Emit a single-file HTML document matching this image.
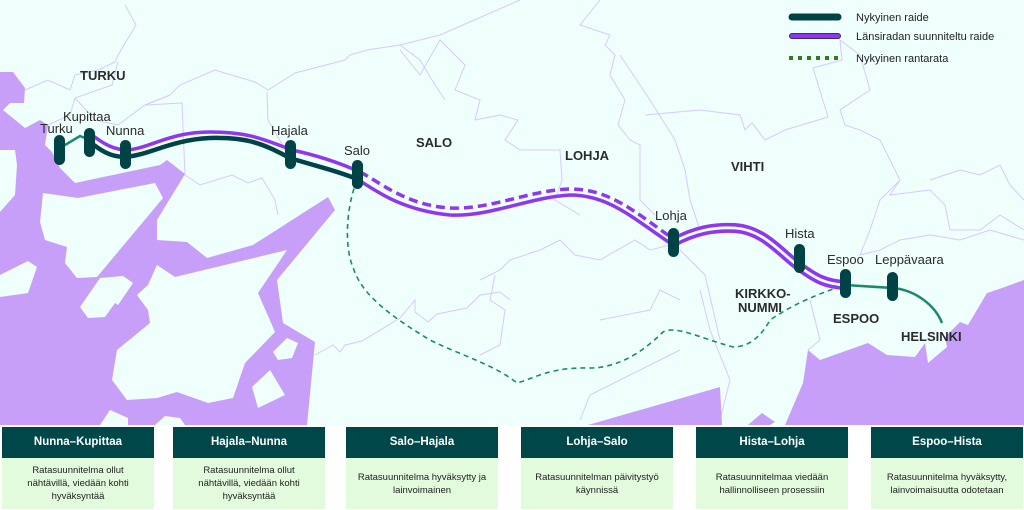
<!DOCTYPE html>
<html><head><meta charset="utf-8"><style>
body{margin:0;width:1024px;height:510px;overflow:hidden;background:#fff;font-family:"Liberation Sans",sans-serif}
.box{position:absolute;top:427px;width:152px;height:82px}
.h{height:31px;background:#00474a;color:#fff;font-weight:bold;font-size:11.5px;text-align:center;line-height:31px}
.b{height:51px;background:#e2fbdd;color:#222;font-size:9.5px;text-align:center;display:flex;align-items:center;justify-content:center;line-height:13px;padding:0 8px}
</style></head><body>
<svg width="1024" height="510" style="position:absolute;left:0;top:0" font-family="Liberation Sans, sans-serif">
<rect x="0" y="0" width="1024" height="425" fill="#effffb"/>
<g fill="none" stroke="#d7c9ff" stroke-width="1">
<polyline points="125,5 136,25 118,55 115,62 98,70 75,75 70,90 48,80 25,90"/>
<polyline points="118,62 112,85 75,98 70,115 48,125"/>
<polyline points="75,98 95,120 118,125 145,105 170,95"/>
<polyline points="170,95 180,85 215,70 255,82 268,90 295,73 345,60 350,55 367,50 380,48 400,45 440,35 520,0"/>
<polyline points="170,95 145,105 182,103 185,175"/>
<polyline points="267,92 268,120 290,158"/>
<polyline points="185,175 200,185 232,175 248,183 262,178 275,200 278,215"/>
<polyline points="600,0 580,25 610,35 605,45 615,55 610,75 625,100 618,125 630,140 640,145 640,200 655,215"/>
<polyline points="400,50 420,75 440,40 465,65 455,90 480,100 475,120 500,115 518,120 505,140 520,150 560,150 562,180 555,200 580,215"/>
<polyline points="645,115 700,110 740,115 745,130 752,123 765,140 785,130 828,117 813,68 842,60 840,40 860,55 870,90 840,110 845,125 860,130 880,140 900,180 880,200"/>
<polyline points="620,55 650,100 675,140 685,170 690,200 700,230"/>
<polyline points="900,180 890,195 930,190 945,205 950,230 980,230 1000,215 1024,230"/>
<polyline points="880,200 870,230 860,255"/>
<polyline points="700,290 710,330 730,380 720,420"/>
<polyline points="680,250 705,275 720,340"/>
<polyline points="810,300 820,340 808,350"/>
<polyline points="400,45 420,60 435,85 445,100"/>
<polyline points="480,280 500,270 510,260 540,250 560,240 575,255 600,260 635,240 650,250 690,240"/>
<polyline points="480,355 500,345 505,310 490,300 495,275"/>
<polyline points="600,320 650,310 660,290 680,300"/>
<polyline points="580,420 590,395 620,380 660,360 680,350"/>
<polyline points="315,355 333,345 340,352 345,345 362,341 400,318 415,300 415,312 428,322 437,314 467,308 480,295 500,292 510,300"/>
<polyline points="930,180 960,170 980,175 1000,165 1010,185 1024,200"/>
<polyline points="860,255 880,250 900,240 930,235 960,240 990,230 1024,240"/>
</g>
<g fill="#c79ff9">
<polygon points="0,72 13,72 25,88 24,103 10,103 3,110 25,128 40,120 48,125 45,145 52,152 60,168 75,183 160,165 167,160 185,174 157,220 157,240 187,242 207,258 253,245 328,197 335,210 277,280 283,323 315,342 307,425 0,425"/>
<polygon points="588,425 720,387 722,425"/>
<polygon points="748,425 762,413 775,422 770,425"/>
<polygon points="785,425 803,383 808,350 820,360 868,343 887,355 915,357 925,343 928,363 947,347 945,337 960,322 968,325 987,293 1002,288 1024,280 1024,425"/>
</g>
<g fill="#effffb">
<polygon points="0,150 15,150 17,165 15,195 0,212"/>
<polygon points="43,193 78,198 155,183 163,198 97,277 77,278 65,263 67,247 45,240 40,222"/>
<polygon points="157,265 175,277 287,250 258,293 275,332 245,363 233,398 208,403 177,392 157,398 127,400 112,380 117,350 150,323 148,310 137,295 148,285"/>
<polygon points="80,307 100,278 123,276 133,283 118,305 115,303 105,317 88,318"/>
<polygon points="273,352 287,338 298,343 292,358 278,360"/>
<polygon points="252,387 270,370 285,395 258,408"/>
<polygon points="0,275 28,261 37,267 28,293 0,297"/>
<polygon points="100,425 110,410 128,418 128,425"/>
<polygon points="155,425 165,416 180,418 185,425"/>
</g>
<!-- rantarata dashed -->
<path d="M357,180 C345,210 345,250 353,267 C360,290 380,310 430,340 C460,355 495,365 517,383 C535,378 550,367 590,368 C615,368 640,355 663,332 C675,325 700,338 733,347 C750,347 762,335 770,320 C785,310 805,298 845,285" fill="none" stroke="#1b8a6b" stroke-width="1.6" stroke-dasharray="5,4"/>
<!-- existing dark Kupittaa-Salo -->
<path d="M90,142 C100,150 110,157 125,157 C150,155 170,140 210,138 C250,137 265,145 290,158 C315,166 335,170 357,179" fill="none" stroke="#004346" stroke-width="4.5"/>
<!-- purple upper Kupittaa-Salo-->
<path d="M92,135 C105,145 115,150 128,150 C150,148 170,132 210,132 C250,132 265,140 292,150 C320,156 340,163 360,172" fill="none" stroke="#8f37ee" stroke-width="3.5"/>
<!-- Salo-Lohja -->
<path d="M357,179 C375,190 400,210 450,215 C490,217 530,197 570,195 C610,195 635,220 673,245" fill="none" stroke="#8f37ee" stroke-width="3.5"/>
<path d="M360,172 C380,182 405,205 450,208 C490,210 530,190 570,189 C610,189 635,212 672,238" fill="none" stroke="#8f37ee" stroke-width="3.5" stroke-dasharray="9,5"/>
<!-- Lohja-Espoo double -->
<path d="M672,243 C695,230 715,227 735,228 C765,230 782,255 800,267 C815,278 825,284 845,285" fill="none" stroke="#8f37ee" stroke-width="10"/>
<path d="M672,243 C695,230 715,227 735,228 C765,230 782,255 800,267 C815,278 825,284 845,285" fill="none" stroke="#effffb" stroke-width="2.8"/>
<!-- green -->
<path d="M845,285 L893,288 C915,290 935,305 942,323" fill="none" stroke="#1b8a6b" stroke-width="2.5"/>
<path d="M60,148 L80,136 L90,140" fill="none" stroke="#1b8a6b" stroke-width="2.5"/>
<!-- stations -->
<g fill="#004346">
<rect x="54" y="135" width="11" height="30" rx="5.5"/>
<rect x="84" y="128" width="11" height="29" rx="5.5"/>
<rect x="120" y="140" width="11" height="29" rx="5.5"/>
<rect x="285" y="140" width="11" height="29" rx="5.5"/>
<rect x="352" y="160" width="11" height="29" rx="5.5"/>
<rect x="668" y="228" width="11" height="29" rx="5.5"/>
<rect x="794" y="244" width="11" height="29" rx="5.5"/>
<rect x="840" y="269" width="11" height="29" rx="5.5"/>
<rect x="887" y="272" width="11" height="29" rx="5.5"/>
</g>
<g font-size="13" fill="#2b2b2b">
<text x="40" y="133">Turku</text>
<text x="63" y="121">Kupittaa</text>
<text x="106" y="135">Nunna</text>
<text x="271" y="135">Hajala</text>
<text x="344" y="155">Salo</text>
<text x="655" y="220">Lohja</text>
<text x="785" y="238">Hista</text>
<text x="827" y="264">Espoo</text>
<text x="875" y="264">Leppävaara</text>
</g>
<g font-size="13" fill="#2b2b2b" font-weight="bold">
<text x="80" y="80">TURKU</text>
<text x="416" y="147">SALO</text>
<text x="565" y="160">LOHJA</text>
<text x="731" y="171">VIHTI</text>
<text x="735" y="298">KIRKKO-</text>
<text x="738" y="312">NUMMI</text>
<text x="833" y="323">ESPOO</text>
<text x="901" y="341">HELSINKI</text>
</g>
<!-- legend -->
<line x1="792" y1="17" x2="838" y2="17" stroke="#004346" stroke-width="7" stroke-linecap="round"/>
<line x1="792" y1="36" x2="838" y2="36" stroke="#3a2a6e" stroke-width="6" stroke-linecap="round"/>
<line x1="792" y1="36" x2="838" y2="36" stroke="#8f37ee" stroke-width="4" stroke-linecap="round"/>
<line x1="789" y1="58" x2="841" y2="58" stroke="#2e7d1a" stroke-width="4" stroke-dasharray="4,5"/>
<g font-size="11" fill="#222">
<text x="856" y="21">Nykyinen raide</text>
<text x="856" y="40">Länsiradan suunniteltu raide</text>
<text x="856" y="62">Nykyinen rantarata</text>
</g>
</svg>
<div class="box" style="left:2px"><div class="h">Nunna–Kupittaa</div><div class="b">Ratasuunnitelma ollut nähtävillä, viedään kohti hyväksyntää</div></div>
<div class="box" style="left:173px"><div class="h">Hajala–Nunna</div><div class="b">Ratasuunnitelma ollut nähtävillä, viedään kohti hyväksyntää</div></div>
<div class="box" style="left:346px"><div class="h">Salo–Hajala</div><div class="b">Ratasuunnitelma hyväksytty ja lainvoimainen</div></div>
<div class="box" style="left:521px"><div class="h">Lohja–Salo</div><div class="b">Ratasuunnitelman päivitystyö käynnissä</div></div>
<div class="box" style="left:696px"><div class="h">Hista–Lohja</div><div class="b">Ratasuunnitelmaa viedään hallinnolliseen prosessiin</div></div>
<div class="box" style="left:871px"><div class="h">Espoo–Hista</div><div class="b">Ratasuunnitelma hyväksytty, lainvoimaisuutta odotetaan</div></div>
</body></html>
